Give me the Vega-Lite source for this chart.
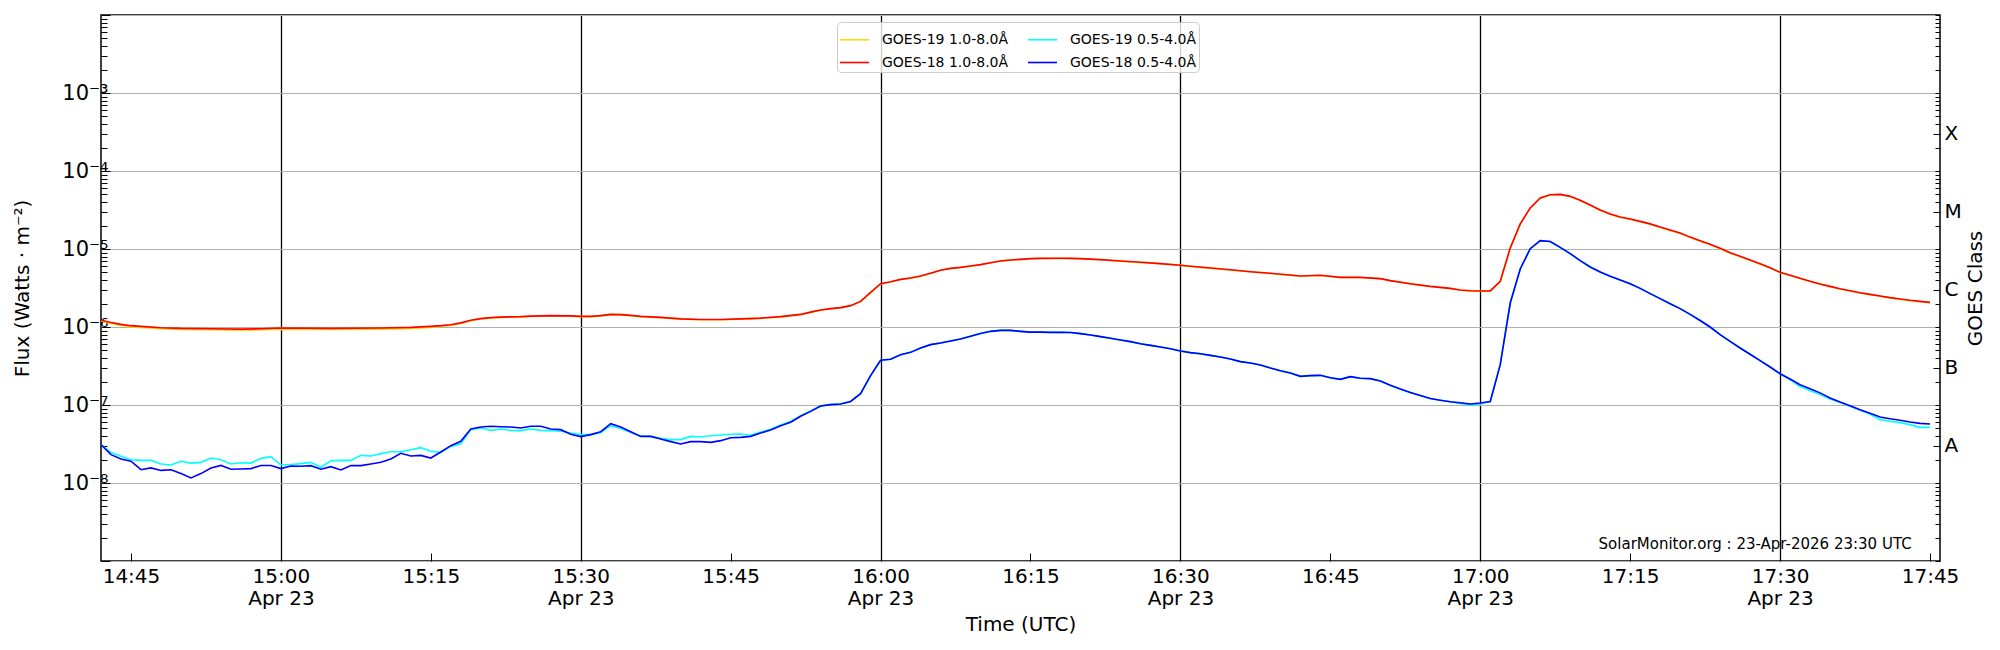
{
  "$schema": "https://vega.github.io/schema/vega-lite/v6.json",
  "width": 1839,
  "height": 546,
  "autosize": "none",
  "padding": {"left": 101, "top": 15, "right": 60, "bottom": 89},
  "config": {
    "font": "DejaVu Sans",
    "view": {"stroke": "black", "strokeWidth": 1.5},
    "axis": {
      "domain": false,
      "tickColor": "black",
      "tickWidth": 1,
      "labelColor": "black",
      "titleColor": "black",
      "labelFontSize": 20,
      "titleFontSize": 20,
      "titleFontWeight": "normal",
      "labelOverlap": false,
      "labelFlush": false,
      "labelBound": false
    }
  },
  "layer": [
    {
      "data": {
        "format": {"parse": {"t": "date:'%H:%M'"}},
        "values": [
          {"t":"14:42","s":"19L","v":1.20e-6},{"t":"14:43","s":"19L","v":1.11e-6},{"t":"14:44","s":"19L","v":1.05e-6},{"t":"14:45","s":"19L","v":1.01e-6},{"t":"14:46","s":"19L","v":9.9e-7},{"t":"14:48","s":"19L","v":9.5e-7},{"t":"14:50","s":"19L","v":9.3e-7},{"t":"14:53","s":"19L","v":9.2e-7},{"t":"14:56","s":"19L","v":9.1e-7},{"t":"14:58","s":"19L","v":9.2e-7},{"t":"15:00","s":"19L","v":9.4e-7},{"t":"15:05","s":"19L","v":9.3e-7},{"t":"15:10","s":"19L","v":9.4e-7},{"t":"15:13","s":"19L","v":9.6e-7},{"t":"15:15","s":"19L","v":9.9e-7},{"t":"15:16","s":"19L","v":1.02e-6},{"t":"15:17","s":"19L","v":1.05e-6},{"t":"15:18","s":"19L","v":1.11e-6},{"t":"15:19","s":"19L","v":1.20e-6},{"t":"15:20","s":"19L","v":1.27e-6},{"t":"15:21","s":"19L","v":1.31e-6},{"t":"15:22","s":"19L","v":1.33e-6},{"t":"15:24","s":"19L","v":1.35e-6},{"t":"15:25","s":"19L","v":1.37e-6},{"t":"15:27","s":"19L","v":1.39e-6},{"t":"15:29","s":"19L","v":1.38e-6},{"t":"15:30","s":"19L","v":1.36e-6},{"t":"15:31","s":"19L","v":1.36e-6},{"t":"15:32","s":"19L","v":1.39e-6},{"t":"15:33","s":"19L","v":1.44e-6},{"t":"15:34","s":"19L","v":1.43e-6},{"t":"15:35","s":"19L","v":1.40e-6},{"t":"15:36","s":"19L","v":1.36e-6},{"t":"15:38","s":"19L","v":1.32e-6},{"t":"15:40","s":"19L","v":1.26e-6},{"t":"15:42","s":"19L","v":1.24e-6},{"t":"15:44","s":"19L","v":1.24e-6},{"t":"15:46","s":"19L","v":1.26e-6},{"t":"15:48","s":"19L","v":1.29e-6},{"t":"15:50","s":"19L","v":1.35e-6},{"t":"15:52","s":"19L","v":1.44e-6},{"t":"15:53","s":"19L","v":1.54e-6},{"t":"15:54","s":"19L","v":1.64e-6},{"t":"15:55","s":"19L","v":1.71e-6},{"t":"15:56","s":"19L","v":1.76e-6},{"t":"15:57","s":"19L","v":1.87e-6},{"t":"15:58","s":"19L","v":2.12e-6},{"t":"15:59","s":"19L","v":2.76e-6},{"t":"16:00","s":"19L","v":3.57e-6},{"t":"16:01","s":"19L","v":3.78e-6},{"t":"16:02","s":"19L","v":4.06e-6},{"t":"16:03","s":"19L","v":4.23e-6},{"t":"16:04","s":"19L","v":4.48e-6},{"t":"16:05","s":"19L","v":4.88e-6},{"t":"16:06","s":"19L","v":5.33e-6},{"t":"16:07","s":"19L","v":5.63e-6},{"t":"16:08","s":"19L","v":5.80e-6},{"t":"16:09","s":"19L","v":6.03e-6},{"t":"16:10","s":"19L","v":6.28e-6},{"t":"16:11","s":"19L","v":6.66e-6},{"t":"16:12","s":"19L","v":7.00e-6},{"t":"16:13","s":"19L","v":7.21e-6},{"t":"16:14","s":"19L","v":7.35e-6},{"t":"16:15","s":"19L","v":7.50e-6},{"t":"16:16","s":"19L","v":7.57e-6},{"t":"16:18","s":"19L","v":7.58e-6},{"t":"16:19","s":"19L","v":7.57e-6},{"t":"16:20","s":"19L","v":7.50e-6},{"t":"16:22","s":"19L","v":7.28e-6},{"t":"16:24","s":"19L","v":7.00e-6},{"t":"16:26","s":"19L","v":6.73e-6},{"t":"16:28","s":"19L","v":6.47e-6},{"t":"16:30","s":"19L","v":6.16e-6},{"t":"16:31","s":"19L","v":5.98e-6},{"t":"16:33","s":"19L","v":5.69e-6},{"t":"16:35","s":"19L","v":5.39e-6},{"t":"16:37","s":"19L","v":5.10e-6},{"t":"16:39","s":"19L","v":4.86e-6},{"t":"16:42","s":"19L","v":4.49e-6},{"t":"16:44","s":"19L","v":4.58e-6},{"t":"16:46","s":"19L","v":4.31e-6},{"t":"16:48","s":"19L","v":4.31e-6},{"t":"16:50","s":"19L","v":4.15e-6},{"t":"16:51","s":"19L","v":3.91e-6},{"t":"16:53","s":"19L","v":3.57e-6},{"t":"16:55","s":"19L","v":3.30e-6},{"t":"16:57","s":"19L","v":3.11e-6},{"t":"16:58","s":"19L","v":2.96e-6},{"t":"16:59","s":"19L","v":2.90e-6},{"t":"17:00","s":"19L","v":2.88e-6},{"t":"17:01","s":"19L","v":2.88e-6},{"t":"17:02","s":"19L","v":3.82e-6},{"t":"17:03","s":"19L","v":1.02e-5},{"t":"17:04","s":"19L","v":2.09e-5},{"t":"17:05","s":"19L","v":3.34e-5},{"t":"17:06","s":"19L","v":4.49e-5},{"t":"17:07","s":"19L","v":4.95e-5},{"t":"17:08","s":"19L","v":5.00e-5},{"t":"17:09","s":"19L","v":4.71e-5},{"t":"17:10","s":"19L","v":4.19e-5},{"t":"17:11","s":"19L","v":3.64e-5},{"t":"17:12","s":"19L","v":3.14e-5},{"t":"17:13","s":"19L","v":2.79e-5},{"t":"17:14","s":"19L","v":2.55e-5},{"t":"17:15","s":"19L","v":2.41e-5},{"t":"17:16","s":"19L","v":2.24e-5},{"t":"17:17","s":"19L","v":2.08e-5},{"t":"17:18","s":"19L","v":1.89e-5},{"t":"17:19","s":"19L","v":1.73e-5},{"t":"17:20","s":"19L","v":1.58e-5},{"t":"17:21","s":"19L","v":1.40e-5},{"t":"17:22","s":"19L","v":1.26e-5},{"t":"17:23","s":"19L","v":1.14e-5},{"t":"17:24","s":"19L","v":1.01e-5},{"t":"17:25","s":"19L","v":8.90e-6},{"t":"17:26","s":"19L","v":7.98e-6},{"t":"17:27","s":"19L","v":7.17e-6},{"t":"17:28","s":"19L","v":6.44e-6},{"t":"17:29","s":"19L","v":5.70e-6},{"t":"17:30","s":"19L","v":4.98e-6},{"t":"17:31","s":"19L","v":4.56e-6},{"t":"17:32","s":"19L","v":4.18e-6},{"t":"17:33","s":"19L","v":3.82e-6},{"t":"17:34","s":"19L","v":3.53e-6},{"t":"17:35","s":"19L","v":3.29e-6},{"t":"17:36","s":"19L","v":3.07e-6},{"t":"17:37","s":"19L","v":2.90e-6},{"t":"17:38","s":"19L","v":2.73e-6},{"t":"17:39","s":"19L","v":2.60e-6},{"t":"17:40","s":"19L","v":2.48e-6},{"t":"17:41","s":"19L","v":2.36e-6},{"t":"17:42","s":"19L","v":2.27e-6},{"t":"17:43","s":"19L","v":2.18e-6},{"t":"17:44","s":"19L","v":2.11e-6},{"t":"17:45","s":"19L","v":2.05e-6},

          {"t":"14:42","s":"18L","v":1.22e-6},{"t":"14:43","s":"18L","v":1.14e-6},{"t":"14:44","s":"18L","v":1.08e-6},{"t":"14:45","s":"18L","v":1.04e-6},{"t":"14:46","s":"18L","v":1.02e-6},{"t":"14:48","s":"18L","v":9.8e-7},{"t":"14:50","s":"18L","v":9.6e-7},{"t":"14:53","s":"18L","v":9.5e-7},{"t":"14:56","s":"18L","v":9.4e-7},{"t":"14:58","s":"18L","v":9.5e-7},{"t":"15:00","s":"18L","v":9.7e-7},{"t":"15:05","s":"18L","v":9.6e-7},{"t":"15:10","s":"18L","v":9.7e-7},{"t":"15:13","s":"18L","v":9.9e-7},{"t":"15:15","s":"18L","v":1.02e-6},{"t":"15:16","s":"18L","v":1.04e-6},{"t":"15:17","s":"18L","v":1.07e-6},{"t":"15:18","s":"18L","v":1.13e-6},{"t":"15:19","s":"18L","v":1.22e-6},{"t":"15:20","s":"18L","v":1.28e-6},{"t":"15:21","s":"18L","v":1.32e-6},{"t":"15:22","s":"18L","v":1.34e-6},{"t":"15:24","s":"18L","v":1.36e-6},{"t":"15:25","s":"18L","v":1.38e-6},{"t":"15:27","s":"18L","v":1.40e-6},{"t":"15:29","s":"18L","v":1.39e-6},{"t":"15:30","s":"18L","v":1.37e-6},{"t":"15:31","s":"18L","v":1.37e-6},{"t":"15:32","s":"18L","v":1.40e-6},{"t":"15:33","s":"18L","v":1.45e-6},{"t":"15:34","s":"18L","v":1.44e-6},{"t":"15:35","s":"18L","v":1.41e-6},{"t":"15:36","s":"18L","v":1.37e-6},{"t":"15:38","s":"18L","v":1.33e-6},{"t":"15:40","s":"18L","v":1.27e-6},{"t":"15:42","s":"18L","v":1.25e-6},{"t":"15:44","s":"18L","v":1.25e-6},{"t":"15:46","s":"18L","v":1.27e-6},{"t":"15:48","s":"18L","v":1.30e-6},{"t":"15:50","s":"18L","v":1.36e-6},{"t":"15:52","s":"18L","v":1.45e-6},{"t":"15:53","s":"18L","v":1.55e-6},{"t":"15:54","s":"18L","v":1.65e-6},{"t":"15:55","s":"18L","v":1.72e-6},{"t":"15:56","s":"18L","v":1.77e-6},{"t":"15:57","s":"18L","v":1.88e-6},{"t":"15:58","s":"18L","v":2.13e-6},{"t":"15:59","s":"18L","v":2.78e-6},{"t":"16:00","s":"18L","v":3.59e-6},{"t":"16:01","s":"18L","v":3.80e-6},{"t":"16:02","s":"18L","v":4.08e-6},{"t":"16:03","s":"18L","v":4.25e-6},{"t":"16:04","s":"18L","v":4.50e-6},{"t":"16:05","s":"18L","v":4.90e-6},{"t":"16:06","s":"18L","v":5.35e-6},{"t":"16:07","s":"18L","v":5.65e-6},{"t":"16:08","s":"18L","v":5.82e-6},{"t":"16:09","s":"18L","v":6.05e-6},{"t":"16:10","s":"18L","v":6.30e-6},{"t":"16:11","s":"18L","v":6.68e-6},{"t":"16:12","s":"18L","v":7.02e-6},{"t":"16:13","s":"18L","v":7.23e-6},{"t":"16:14","s":"18L","v":7.37e-6},{"t":"16:15","s":"18L","v":7.52e-6},{"t":"16:16","s":"18L","v":7.59e-6},{"t":"16:18","s":"18L","v":7.60e-6},{"t":"16:19","s":"18L","v":7.59e-6},{"t":"16:20","s":"18L","v":7.52e-6},{"t":"16:22","s":"18L","v":7.30e-6},{"t":"16:24","s":"18L","v":7.02e-6},{"t":"16:26","s":"18L","v":6.75e-6},{"t":"16:28","s":"18L","v":6.49e-6},{"t":"16:30","s":"18L","v":6.18e-6},{"t":"16:31","s":"18L","v":6.00e-6},{"t":"16:33","s":"18L","v":5.71e-6},{"t":"16:35","s":"18L","v":5.41e-6},{"t":"16:37","s":"18L","v":5.12e-6},{"t":"16:39","s":"18L","v":4.88e-6},{"t":"16:42","s":"18L","v":4.51e-6},{"t":"16:44","s":"18L","v":4.60e-6},{"t":"16:46","s":"18L","v":4.33e-6},{"t":"16:48","s":"18L","v":4.33e-6},{"t":"16:50","s":"18L","v":4.17e-6},{"t":"16:51","s":"18L","v":3.93e-6},{"t":"16:53","s":"18L","v":3.59e-6},{"t":"16:55","s":"18L","v":3.32e-6},{"t":"16:57","s":"18L","v":3.13e-6},{"t":"16:58","s":"18L","v":2.98e-6},{"t":"16:59","s":"18L","v":2.92e-6},{"t":"17:00","s":"18L","v":2.90e-6},{"t":"17:01","s":"18L","v":2.90e-6},{"t":"17:02","s":"18L","v":3.85e-6},{"t":"17:03","s":"18L","v":1.03e-5},{"t":"17:04","s":"18L","v":2.10e-5},{"t":"17:05","s":"18L","v":3.36e-5},{"t":"17:06","s":"18L","v":4.51e-5},{"t":"17:07","s":"18L","v":4.97e-5},{"t":"17:08","s":"18L","v":5.02e-5},{"t":"17:09","s":"18L","v":4.73e-5},{"t":"17:10","s":"18L","v":4.21e-5},{"t":"17:11","s":"18L","v":3.66e-5},{"t":"17:12","s":"18L","v":3.16e-5},{"t":"17:13","s":"18L","v":2.81e-5},{"t":"17:14","s":"18L","v":2.57e-5},{"t":"17:15","s":"18L","v":2.43e-5},{"t":"17:16","s":"18L","v":2.26e-5},{"t":"17:17","s":"18L","v":2.10e-5},{"t":"17:18","s":"18L","v":1.91e-5},{"t":"17:19","s":"18L","v":1.75e-5},{"t":"17:20","s":"18L","v":1.60e-5},{"t":"17:21","s":"18L","v":1.42e-5},{"t":"17:22","s":"18L","v":1.28e-5},{"t":"17:23","s":"18L","v":1.15e-5},{"t":"17:24","s":"18L","v":1.02e-5},{"t":"17:25","s":"18L","v":8.98e-6},{"t":"17:26","s":"18L","v":8.05e-6},{"t":"17:27","s":"18L","v":7.23e-6},{"t":"17:28","s":"18L","v":6.49e-6},{"t":"17:29","s":"18L","v":5.75e-6},{"t":"17:30","s":"18L","v":5.02e-6},{"t":"17:31","s":"18L","v":4.60e-6},{"t":"17:32","s":"18L","v":4.21e-6},{"t":"17:33","s":"18L","v":3.85e-6},{"t":"17:34","s":"18L","v":3.56e-6},{"t":"17:35","s":"18L","v":3.32e-6},{"t":"17:36","s":"18L","v":3.10e-6},{"t":"17:37","s":"18L","v":2.92e-6},{"t":"17:38","s":"18L","v":2.75e-6},{"t":"17:39","s":"18L","v":2.62e-6},{"t":"17:40","s":"18L","v":2.50e-6},{"t":"17:41","s":"18L","v":2.38e-6},{"t":"17:42","s":"18L","v":2.29e-6},{"t":"17:43","s":"18L","v":2.20e-6},{"t":"17:44","s":"18L","v":2.13e-6},{"t":"17:45","s":"18L","v":2.07e-6},

          {"t":"14:42","s":"19S","v":3.10e-8},{"t":"14:43","s":"19S","v":2.47e-8},{"t":"14:44","s":"19S","v":2.20e-8},{"t":"14:45","s":"19S","v":1.99e-8},{"t":"14:46","s":"19S","v":1.95e-8},{"t":"14:47","s":"19S","v":1.95e-8},{"t":"14:48","s":"19S","v":1.75e-8},{"t":"14:49","s":"19S","v":1.70e-8},{"t":"14:50","s":"19S","v":1.90e-8},{"t":"14:51","s":"19S","v":1.80e-8},{"t":"14:52","s":"19S","v":1.84e-8},{"t":"14:53","s":"19S","v":2.09e-8},{"t":"14:54","s":"19S","v":1.99e-8},{"t":"14:55","s":"19S","v":1.75e-8},{"t":"14:56","s":"19S","v":1.82e-8},{"t":"14:57","s":"19S","v":1.80e-8},{"t":"14:58","s":"19S","v":2.07e-8},{"t":"14:59","s":"19S","v":2.18e-8},{"t":"15:00","s":"19S","v":1.70e-8},{"t":"15:01","s":"19S","v":1.73e-8},{"t":"15:02","s":"19S","v":1.77e-8},{"t":"15:03","s":"19S","v":1.84e-8},{"t":"15:04","s":"19S","v":1.59e-8},{"t":"15:05","s":"19S","v":1.93e-8},{"t":"15:06","s":"19S","v":1.95e-8},{"t":"15:07","s":"19S","v":1.95e-8},{"t":"15:08","s":"19S","v":2.26e-8},{"t":"15:09","s":"19S","v":2.22e-8},{"t":"15:10","s":"19S","v":2.38e-8},{"t":"15:11","s":"19S","v":2.52e-8},{"t":"15:12","s":"19S","v":2.52e-8},{"t":"15:13","s":"19S","v":2.67e-8},{"t":"15:14","s":"19S","v":2.84e-8},{"t":"15:15","s":"19S","v":2.55e-8},{"t":"15:16","s":"19S","v":2.47e-8},{"t":"15:17","s":"19S","v":2.95e-8},{"t":"15:18","s":"19S","v":3.19e-8},{"t":"15:19","s":"19S","v":4.83e-8},{"t":"15:20","s":"19S","v":5.07e-8},{"t":"15:21","s":"19S","v":4.73e-8},{"t":"15:22","s":"19S","v":4.92e-8},{"t":"15:23","s":"19S","v":4.73e-8},{"t":"15:24","s":"19S","v":4.69e-8},{"t":"15:25","s":"19S","v":4.92e-8},{"t":"15:26","s":"19S","v":4.73e-8},{"t":"15:27","s":"19S","v":4.69e-8},{"t":"15:28","s":"19S","v":4.60e-8},{"t":"15:29","s":"19S","v":4.38e-8},{"t":"15:30","s":"19S","v":4.17e-8},{"t":"15:31","s":"19S","v":4.17e-8},{"t":"15:32","s":"19S","v":4.45e-8},{"t":"15:33","s":"19S","v":5.43e-8},{"t":"15:34","s":"19S","v":5.00e-8},{"t":"15:35","s":"19S","v":4.45e-8},{"t":"15:36","s":"19S","v":4.00e-8},{"t":"15:37","s":"19S","v":3.96e-8},{"t":"15:38","s":"19S","v":3.75e-8},{"t":"15:39","s":"19S","v":3.60e-8},{"t":"15:40","s":"19S","v":3.60e-8},{"t":"15:41","s":"19S","v":3.96e-8},{"t":"15:42","s":"19S","v":3.89e-8},{"t":"15:43","s":"19S","v":4.04e-8},{"t":"15:44","s":"19S","v":4.12e-8},{"t":"15:45","s":"19S","v":4.21e-8},{"t":"15:46","s":"19S","v":4.25e-8},{"t":"15:47","s":"19S","v":4.10e-8},{"t":"15:48","s":"19S","v":4.50e-8},{"t":"15:49","s":"19S","v":4.90e-8},{"t":"15:50","s":"19S","v":5.55e-8},{"t":"15:51","s":"19S","v":6.15e-8},{"t":"15:52","s":"19S","v":7.30e-8},{"t":"15:53","s":"19S","v":8.40e-8},{"t":"15:54","s":"19S","v":9.71e-8},{"t":"15:55","s":"19S","v":1.01e-7},{"t":"15:56","s":"19S","v":1.03e-7},{"t":"15:57","s":"19S","v":1.11e-7},{"t":"15:58","s":"19S","v":1.40e-7},{"t":"15:59","s":"19S","v":2.38e-7},{"t":"16:00","s":"19S","v":3.74e-7},{"t":"16:01","s":"19S","v":3.85e-7},{"t":"16:02","s":"19S","v":4.42e-7},{"t":"16:03","s":"19S","v":4.73e-7},{"t":"16:04","s":"19S","v":5.38e-7},{"t":"16:05","s":"19S","v":5.94e-7},{"t":"16:06","s":"19S","v":6.23e-7},{"t":"16:07","s":"19S","v":6.60e-7},{"t":"16:08","s":"19S","v":7.00e-7},{"t":"16:09","s":"19S","v":7.60e-7},{"t":"16:10","s":"19S","v":8.25e-7},{"t":"16:11","s":"19S","v":8.80e-7},{"t":"16:12","s":"19S","v":9.06e-7},{"t":"16:13","s":"19S","v":9.06e-7},{"t":"16:14","s":"19S","v":8.80e-7},{"t":"16:15","s":"19S","v":8.60e-7},{"t":"16:16","s":"19S","v":8.60e-7},{"t":"16:17","s":"19S","v":8.54e-7},{"t":"16:18","s":"19S","v":8.54e-7},{"t":"16:19","s":"19S","v":8.50e-7},{"t":"16:20","s":"19S","v":8.22e-7},{"t":"16:21","s":"19S","v":7.89e-7},{"t":"16:22","s":"19S","v":7.52e-7},{"t":"16:23","s":"19S","v":7.16e-7},{"t":"16:24","s":"19S","v":6.81e-7},{"t":"16:25","s":"19S","v":6.49e-7},{"t":"16:26","s":"19S","v":6.11e-7},{"t":"16:27","s":"19S","v":5.82e-7},{"t":"16:28","s":"19S","v":5.54e-7},{"t":"16:29","s":"19S","v":5.27e-7},{"t":"16:30","s":"19S","v":4.92e-7},{"t":"16:31","s":"19S","v":4.69e-7},{"t":"16:32","s":"19S","v":4.55e-7},{"t":"16:33","s":"19S","v":4.33e-7},{"t":"16:34","s":"19S","v":4.12e-7},{"t":"16:35","s":"19S","v":3.89e-7},{"t":"16:36","s":"19S","v":3.60e-7},{"t":"16:37","s":"19S","v":3.45e-7},{"t":"16:38","s":"19S","v":3.26e-7},{"t":"16:39","s":"19S","v":2.98e-7},{"t":"16:40","s":"19S","v":2.75e-7},{"t":"16:41","s":"19S","v":2.57e-7},{"t":"16:42","s":"19S","v":2.33e-7},{"t":"16:43","s":"19S","v":2.38e-7},{"t":"16:44","s":"19S","v":2.40e-7},{"t":"16:45","s":"19S","v":2.24e-7},{"t":"16:46","s":"19S","v":2.13e-7},{"t":"16:47","s":"19S","v":2.31e-7},{"t":"16:48","s":"19S","v":2.20e-7},{"t":"16:49","s":"19S","v":2.18e-7},{"t":"16:50","s":"19S","v":2.03e-7},{"t":"16:51","s":"19S","v":1.79e-7},{"t":"16:52","s":"19S","v":1.60e-7},{"t":"16:53","s":"19S","v":1.45e-7},{"t":"16:54","s":"19S","v":1.32e-7},{"t":"16:55","s":"19S","v":1.21e-7},{"t":"16:56","s":"19S","v":1.15e-7},{"t":"16:57","s":"19S","v":1.10e-7},{"t":"16:58","s":"19S","v":1.05e-7},{"t":"16:59","s":"19S","v":1.00e-7},{"t":"17:00","s":"19S","v":1.03e-7},{"t":"17:01","s":"19S","v":1.11e-7},{"t":"17:02","s":"19S","v":3.29e-7},{"t":"17:03","s":"19S","v":2.03e-6},{"t":"17:04","s":"19S","v":5.54e-6},{"t":"17:05","s":"19S","v":1.01e-5},{"t":"17:06","s":"19S","v":1.28e-5},{"t":"17:07","s":"19S","v":1.25e-5},{"t":"17:08","s":"19S","v":1.05e-5},{"t":"17:09","s":"19S","v":8.71e-6},{"t":"17:10","s":"19S","v":7.09e-6},{"t":"17:11","s":"19S","v":5.88e-6},{"t":"17:12","s":"19S","v":5.07e-6},{"t":"17:13","s":"19S","v":4.46e-6},{"t":"17:14","s":"19S","v":4.01e-6},{"t":"17:15","s":"19S","v":3.59e-6},{"t":"17:16","s":"19S","v":3.13e-6},{"t":"17:17","s":"19S","v":2.68e-6},{"t":"17:18","s":"19S","v":2.31e-6},{"t":"17:19","s":"19S","v":1.99e-6},{"t":"17:20","s":"19S","v":1.72e-6},{"t":"17:21","s":"19S","v":1.45e-6},{"t":"17:22","s":"19S","v":1.21e-6},{"t":"17:23","s":"19S","v":1.00e-6},{"t":"17:24","s":"19S","v":7.98e-7},{"t":"17:25","s":"19S","v":6.55e-7},{"t":"17:26","s":"19S","v":5.38e-7},{"t":"17:27","s":"19S","v":4.47e-7},{"t":"17:28","s":"19S","v":3.70e-7},{"t":"17:29","s":"19S","v":3.07e-7},{"t":"17:30","s":"19S","v":2.52e-7},{"t":"17:31","s":"19S","v":2.11e-7},{"t":"17:32","s":"19S","v":1.73e-7},{"t":"17:33","s":"19S","v":1.53e-7},{"t":"17:34","s":"19S","v":1.36e-7},{"t":"17:35","s":"19S","v":1.19e-7},{"t":"17:36","s":"19S","v":1.08e-7},{"t":"17:37","s":"19S","v":9.62e-8},{"t":"17:38","s":"19S","v":8.55e-8},{"t":"17:39","s":"19S","v":7.67e-8},{"t":"17:40","s":"19S","v":6.49e-8},{"t":"17:41","s":"19S","v":6.18e-8},{"t":"17:42","s":"19S","v":5.94e-8},{"t":"17:43","s":"19S","v":5.60e-8},{"t":"17:44","s":"19S","v":5.17e-8},{"t":"17:45","s":"19S","v":5.17e-8},

          {"t":"14:42","s":"18S","v":3.10e-8},{"t":"14:43","s":"18S","v":2.31e-8},{"t":"14:44","s":"18S","v":2.03e-8},{"t":"14:45","s":"18S","v":1.90e-8},{"t":"14:46","s":"18S","v":1.48e-8},{"t":"14:47","s":"18S","v":1.56e-8},{"t":"14:48","s":"18S","v":1.45e-8},{"t":"14:49","s":"18S","v":1.48e-8},{"t":"14:50","s":"18S","v":1.32e-8},{"t":"14:51","s":"18S","v":1.16e-8},{"t":"14:52","s":"18S","v":1.32e-8},{"t":"14:53","s":"18S","v":1.56e-8},{"t":"14:54","s":"18S","v":1.68e-8},{"t":"14:55","s":"18S","v":1.50e-8},{"t":"14:56","s":"18S","v":1.51e-8},{"t":"14:57","s":"18S","v":1.53e-8},{"t":"14:58","s":"18S","v":1.68e-8},{"t":"14:59","s":"18S","v":1.68e-8},{"t":"15:00","s":"18S","v":1.53e-8},{"t":"15:01","s":"18S","v":1.65e-8},{"t":"15:02","s":"18S","v":1.64e-8},{"t":"15:03","s":"18S","v":1.67e-8},{"t":"15:04","s":"18S","v":1.50e-8},{"t":"15:05","s":"18S","v":1.62e-8},{"t":"15:06","s":"18S","v":1.47e-8},{"t":"15:07","s":"18S","v":1.67e-8},{"t":"15:08","s":"18S","v":1.67e-8},{"t":"15:09","s":"18S","v":1.75e-8},{"t":"15:10","s":"18S","v":1.84e-8},{"t":"15:11","s":"18S","v":2.03e-8},{"t":"15:12","s":"18S","v":2.40e-8},{"t":"15:13","s":"18S","v":2.22e-8},{"t":"15:14","s":"18S","v":2.26e-8},{"t":"15:15","s":"18S","v":2.09e-8},{"t":"15:16","s":"18S","v":2.50e-8},{"t":"15:17","s":"18S","v":3.01e-8},{"t":"15:18","s":"18S","v":3.42e-8},{"t":"15:19","s":"18S","v":4.92e-8},{"t":"15:20","s":"18S","v":5.22e-8},{"t":"15:21","s":"18S","v":5.33e-8},{"t":"15:22","s":"18S","v":5.27e-8},{"t":"15:23","s":"18S","v":5.22e-8},{"t":"15:24","s":"18S","v":5.07e-8},{"t":"15:25","s":"18S","v":5.33e-8},{"t":"15:26","s":"18S","v":5.33e-8},{"t":"15:27","s":"18S","v":4.92e-8},{"t":"15:28","s":"18S","v":4.83e-8},{"t":"15:29","s":"18S","v":4.21e-8},{"t":"15:30","s":"18S","v":3.93e-8},{"t":"15:31","s":"18S","v":4.17e-8},{"t":"15:32","s":"18S","v":4.55e-8},{"t":"15:33","s":"18S","v":5.77e-8},{"t":"15:34","s":"18S","v":5.22e-8},{"t":"15:35","s":"18S","v":4.55e-8},{"t":"15:36","s":"18S","v":3.96e-8},{"t":"15:37","s":"18S","v":3.96e-8},{"t":"15:38","s":"18S","v":3.66e-8},{"t":"15:39","s":"18S","v":3.39e-8},{"t":"15:40","s":"18S","v":3.16e-8},{"t":"15:41","s":"18S","v":3.39e-8},{"t":"15:42","s":"18S","v":3.39e-8},{"t":"15:43","s":"18S","v":3.32e-8},{"t":"15:44","s":"18S","v":3.49e-8},{"t":"15:45","s":"18S","v":3.81e-8},{"t":"15:46","s":"18S","v":3.85e-8},{"t":"15:47","s":"18S","v":3.96e-8},{"t":"15:48","s":"18S","v":4.38e-8},{"t":"15:49","s":"18S","v":4.78e-8},{"t":"15:50","s":"18S","v":5.43e-8},{"t":"15:51","s":"18S","v":6.00e-8},{"t":"15:52","s":"18S","v":7.16e-8},{"t":"15:53","s":"18S","v":8.29e-8},{"t":"15:54","s":"18S","v":9.71e-8},{"t":"15:55","s":"18S","v":1.01e-7},{"t":"15:56","s":"18S","v":1.03e-7},{"t":"15:57","s":"18S","v":1.11e-7},{"t":"15:58","s":"18S","v":1.40e-7},{"t":"15:59","s":"18S","v":2.38e-7},{"t":"16:00","s":"18S","v":3.74e-7},{"t":"16:01","s":"18S","v":3.85e-7},{"t":"16:02","s":"18S","v":4.42e-7},{"t":"16:03","s":"18S","v":4.73e-7},{"t":"16:04","s":"18S","v":5.38e-7},{"t":"16:05","s":"18S","v":5.94e-7},{"t":"16:06","s":"18S","v":6.23e-7},{"t":"16:07","s":"18S","v":6.60e-7},{"t":"16:08","s":"18S","v":7.00e-7},{"t":"16:09","s":"18S","v":7.60e-7},{"t":"16:10","s":"18S","v":8.25e-7},{"t":"16:11","s":"18S","v":8.80e-7},{"t":"16:12","s":"18S","v":9.06e-7},{"t":"16:13","s":"18S","v":9.06e-7},{"t":"16:14","s":"18S","v":8.80e-7},{"t":"16:15","s":"18S","v":8.60e-7},{"t":"16:16","s":"18S","v":8.60e-7},{"t":"16:17","s":"18S","v":8.54e-7},{"t":"16:18","s":"18S","v":8.54e-7},{"t":"16:19","s":"18S","v":8.50e-7},{"t":"16:20","s":"18S","v":8.22e-7},{"t":"16:21","s":"18S","v":7.89e-7},{"t":"16:22","s":"18S","v":7.52e-7},{"t":"16:23","s":"18S","v":7.16e-7},{"t":"16:24","s":"18S","v":6.81e-7},{"t":"16:25","s":"18S","v":6.49e-7},{"t":"16:26","s":"18S","v":6.11e-7},{"t":"16:27","s":"18S","v":5.82e-7},{"t":"16:28","s":"18S","v":5.54e-7},{"t":"16:29","s":"18S","v":5.27e-7},{"t":"16:30","s":"18S","v":4.92e-7},{"t":"16:31","s":"18S","v":4.69e-7},{"t":"16:32","s":"18S","v":4.55e-7},{"t":"16:33","s":"18S","v":4.33e-7},{"t":"16:34","s":"18S","v":4.12e-7},{"t":"16:35","s":"18S","v":3.89e-7},{"t":"16:36","s":"18S","v":3.60e-7},{"t":"16:37","s":"18S","v":3.45e-7},{"t":"16:38","s":"18S","v":3.26e-7},{"t":"16:39","s":"18S","v":2.98e-7},{"t":"16:40","s":"18S","v":2.75e-7},{"t":"16:41","s":"18S","v":2.57e-7},{"t":"16:42","s":"18S","v":2.33e-7},{"t":"16:43","s":"18S","v":2.38e-7},{"t":"16:44","s":"18S","v":2.40e-7},{"t":"16:45","s":"18S","v":2.24e-7},{"t":"16:46","s":"18S","v":2.13e-7},{"t":"16:47","s":"18S","v":2.31e-7},{"t":"16:48","s":"18S","v":2.20e-7},{"t":"16:49","s":"18S","v":2.18e-7},{"t":"16:50","s":"18S","v":2.03e-7},{"t":"16:51","s":"18S","v":1.79e-7},{"t":"16:52","s":"18S","v":1.60e-7},{"t":"16:53","s":"18S","v":1.45e-7},{"t":"16:54","s":"18S","v":1.32e-7},{"t":"16:55","s":"18S","v":1.21e-7},{"t":"16:56","s":"18S","v":1.15e-7},{"t":"16:57","s":"18S","v":1.10e-7},{"t":"16:58","s":"18S","v":1.07e-7},{"t":"16:59","s":"18S","v":1.03e-7},{"t":"17:00","s":"18S","v":1.06e-7},{"t":"17:01","s":"18S","v":1.11e-7},{"t":"17:02","s":"18S","v":3.29e-7},{"t":"17:03","s":"18S","v":2.03e-6},{"t":"17:04","s":"18S","v":5.54e-6},{"t":"17:05","s":"18S","v":1.01e-5},{"t":"17:06","s":"18S","v":1.28e-5},{"t":"17:07","s":"18S","v":1.25e-5},{"t":"17:08","s":"18S","v":1.05e-5},{"t":"17:09","s":"18S","v":8.71e-6},{"t":"17:10","s":"18S","v":7.09e-6},{"t":"17:11","s":"18S","v":5.88e-6},{"t":"17:12","s":"18S","v":5.07e-6},{"t":"17:13","s":"18S","v":4.46e-6},{"t":"17:14","s":"18S","v":4.01e-6},{"t":"17:15","s":"18S","v":3.59e-6},{"t":"17:16","s":"18S","v":3.13e-6},{"t":"17:17","s":"18S","v":2.68e-6},{"t":"17:18","s":"18S","v":2.31e-6},{"t":"17:19","s":"18S","v":1.99e-6},{"t":"17:20","s":"18S","v":1.72e-6},{"t":"17:21","s":"18S","v":1.45e-6},{"t":"17:22","s":"18S","v":1.21e-6},{"t":"17:23","s":"18S","v":1.00e-6},{"t":"17:24","s":"18S","v":7.98e-7},{"t":"17:25","s":"18S","v":6.55e-7},{"t":"17:26","s":"18S","v":5.38e-7},{"t":"17:27","s":"18S","v":4.47e-7},{"t":"17:28","s":"18S","v":3.70e-7},{"t":"17:29","s":"18S","v":3.07e-7},{"t":"17:30","s":"18S","v":2.52e-7},{"t":"17:31","s":"18S","v":2.15e-7},{"t":"17:32","s":"18S","v":1.82e-7},{"t":"17:33","s":"18S","v":1.62e-7},{"t":"17:34","s":"18S","v":1.43e-7},{"t":"17:35","s":"18S","v":1.23e-7},{"t":"17:36","s":"18S","v":1.09e-7},{"t":"17:37","s":"18S","v":9.80e-8},{"t":"17:38","s":"18S","v":8.71e-8},{"t":"17:39","s":"18S","v":7.82e-8},{"t":"17:40","s":"18S","v":7.02e-8},{"t":"17:41","s":"18S","v":6.68e-8},{"t":"17:42","s":"18S","v":6.36e-8},{"t":"17:43","s":"18S","v":6.05e-8},{"t":"17:44","s":"18S","v":5.82e-8},{"t":"17:45","s":"18S","v":5.71e-8}
        ]
      },
      "mark": {"type": "line", "strokeWidth": 1.6, "clip": true},
      "encoding": {
        "x": {
          "field": "t",
          "type": "temporal",
          "scale": {"domain": [{"year": 1900, "month": 1, "date": 1, "hours": 14, "minutes": 42}, {"year": 1900, "month": 1, "date": 1, "hours": 17, "minutes": 46}]},
          "axis": {
            "title": "Time (UTC)",
            "values": [
              {"year": 1900, "month": 1, "date": 1, "hours": 14, "minutes": 45},
              {"year": 1900, "month": 1, "date": 1, "hours": 15, "minutes": 0},
              {"year": 1900, "month": 1, "date": 1, "hours": 15, "minutes": 15},
              {"year": 1900, "month": 1, "date": 1, "hours": 15, "minutes": 30},
              {"year": 1900, "month": 1, "date": 1, "hours": 15, "minutes": 45},
              {"year": 1900, "month": 1, "date": 1, "hours": 16, "minutes": 0},
              {"year": 1900, "month": 1, "date": 1, "hours": 16, "minutes": 15},
              {"year": 1900, "month": 1, "date": 1, "hours": 16, "minutes": 30},
              {"year": 1900, "month": 1, "date": 1, "hours": 16, "minutes": 45},
              {"year": 1900, "month": 1, "date": 1, "hours": 17, "minutes": 0},
              {"year": 1900, "month": 1, "date": 1, "hours": 17, "minutes": 15},
              {"year": 1900, "month": 1, "date": 1, "hours": 17, "minutes": 30},
              {"year": 1900, "month": 1, "date": 1, "hours": 17, "minutes": 45}
            ],
            "labelExpr": "minutes(datum.value) % 30 == 0 ? [timeFormat(datum.value, '%H:%M'), 'Apr 23'] : timeFormat(datum.value, '%H:%M')",
            "labelLineHeight": 22,
            "labelPadding": 13,
            "tickSize": -8,
            "grid": true,
            "gridColor": "black",
            "gridWidth": 1.3,
            "gridOpacity": {"condition": {"test": "minutes(datum.value) % 30 == 0", "value": 1}, "value": 0},
            "titlePadding": 6
          }
        },
        "y": {
          "field": "v",
          "type": "quantitative",
          "scale": {"type": "log", "domain": [1e-9, 1e-2], "nice": false},
          "axis": {
            "title": "Flux (Watts · m⁻²)",
            "values": [1e-9,2e-9,3e-9,4e-9,5e-9,6e-9,7e-9,8e-9,9e-9,1e-8,2e-8,3e-8,4e-8,5e-8,6e-8,7e-8,8e-8,9e-8,1e-7,2e-7,3e-7,4e-7,5e-7,6e-7,7e-7,8e-7,9e-7,1e-6,2e-6,3e-6,4e-6,5e-6,6e-6,7e-6,8e-6,9e-6,1e-5,2e-5,3e-5,4e-5,5e-5,6e-5,7e-5,8e-5,9e-5,1e-4,2e-4,3e-4,4e-4,5e-4,6e-4,7e-4,8e-4,9e-4,1e-3,2e-3,3e-3,4e-3,5e-3,6e-3,7e-3,8e-3,9e-3,1e-2],
            "labelExpr": "abs(log(datum.value)/LN10 - round(log(datum.value)/LN10)) < 0.001 && round(log(datum.value)/LN10) >= -8 && round(log(datum.value)/LN10) <= -3 ? '10⁻' + ['⁰','¹','²','³','⁴','⁵','⁶','⁷','⁸','⁹'][-round(log(datum.value)/LN10)] : ''",
            "labelFontSize": 21,
            "labelPadding": 2,
            "tickSize": {"condition": {"test": "abs(log(datum.value)/LN10 - round(log(datum.value)/LN10)) < 0.001", "value": -9}, "value": -6},
            "grid": true,
            "gridColor": "#b0b0b0",
            "gridWidth": 1,
            "gridOpacity": {"condition": {"test": "abs(log(datum.value)/LN10 - round(log(datum.value)/LN10)) < 0.001", "value": 1}, "value": 0},
            "titlePadding": 29
          }
        },
        "color": {
          "field": "s",
          "type": "nominal",
          "scale": {"domain": ["19L", "18L", "19S", "18S"], "range": ["#ffd700", "#ff0000", "#00ffff", "#0000ff"]},
          "legend": {
            "title": null,
            "orient": "none",
            "legendX": 736,
            "legendY": 7,
            "columns": 2,
            "columnPadding": 15,
            "rowPadding": 0,
            "symbolType": "stroke",
            "symbolStrokeWidth": 1.6,
            "symbolSize": 841,
            "labelFontSize": 14,
            "labelOffset": 12,
            "labelColor": "black",
            "padding": 2,
            "strokeColor": "#cccccc",
            "fillColor": "rgba(255,255,255,0.8)",
            "cornerRadius": 4,
            "labelExpr": "{'19L': 'GOES-19 1.0-8.0Å', '19S': 'GOES-19 0.5-4.0Å', '18L': 'GOES-18 1.0-8.0Å', '18S': 'GOES-18 0.5-4.0Å'}[datum.label]"
          }
        }
      }
    },
    {
      "data": {
        "format": {"parse": {"t": "date:'%H:%M:%S'"}},
        "values": [{"t": "17:27:30", "v": 1.44e-9, "txt": "SolarMonitor.org : 23-Apr-2026 23:30 UTC"}]
      },
      "mark": {"type": "text", "fontSize": 15, "align": "center", "baseline": "alphabetic", "color": "black"},
      "encoding": {
        "x": {
          "field": "t",
          "type": "temporal",
          "scale": {"domain": [{"year": 1900, "month": 1, "date": 1, "hours": 14, "minutes": 42}, {"year": 1900, "month": 1, "date": 1, "hours": 17, "minutes": 46}]}
        },
        "y": {
          "field": "v",
          "type": "quantitative",
          "scale": {"type": "log", "domain": [1e-9, 1e-2], "nice": false},
          "axis": {
            "orient": "right",
            "title": "GOES Class",
            "titleAngle": 270,
            "values": [1e-9,2e-9,3e-9,4e-9,5e-9,6e-9,7e-9,8e-9,9e-9,1e-8,2e-8,3e-8,4e-8,5e-8,6e-8,7e-8,8e-8,9e-8,1e-7,2e-7,3e-7,4e-7,5e-7,6e-7,7e-7,8e-7,9e-7,1e-6,2e-6,3e-6,4e-6,5e-6,6e-6,7e-6,8e-6,9e-6,1e-5,2e-5,3e-5,4e-5,5e-5,6e-5,7e-5,8e-5,9e-5,1e-4,2e-4,3e-4,4e-4,5e-4,6e-4,7e-4,8e-4,9e-4,1e-3,2e-3,3e-3,4e-3,5e-3,6e-3,7e-3,8e-3,9e-3,1e-2],
            "labelExpr": "abs(datum.value/3e-8 - 1) < 0.01 ? 'A' : abs(datum.value/3e-7 - 1) < 0.01 ? 'B' : abs(datum.value/3e-6 - 1) < 0.01 ? 'C' : abs(datum.value/3e-5 - 1) < 0.01 ? 'M' : abs(datum.value/3e-4 - 1) < 0.01 ? 'X' : ''",
            "labelPadding": 11,
            "tickSize": {"condition": {"test": "abs(datum.value/3e-8 - 1) < 0.01 || abs(datum.value/3e-7 - 1) < 0.01 || abs(datum.value/3e-6 - 1) < 0.01 || abs(datum.value/3e-5 - 1) < 0.01 || abs(datum.value/3e-4 - 1) < 0.01", "value": -7}, "value": -5},
            "grid": false,
            "titlePadding": 24
          }
        },
        "text": {"field": "txt"}
      }
    }
  ],
  "resolve": {"axis": {"y": "independent"}}
}
